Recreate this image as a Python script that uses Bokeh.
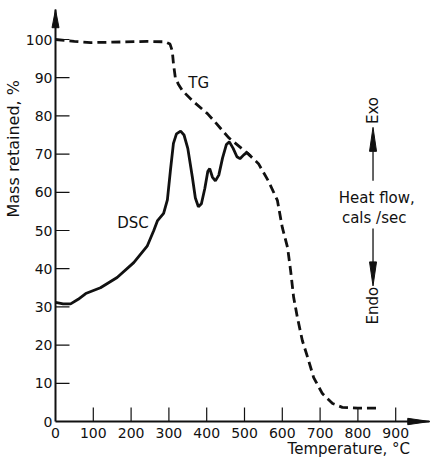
import math
from bokeh.plotting import figure
from bokeh.models import Label, FixedTicker, Range1d
from bokeh.embed import file_html
from bokeh.resources import INLINE

# ---------------- data ----------------
tg_temp = [0, 50, 93, 150, 243, 290, 303, 309, 312, 317, 325, 336, 362, 402, 423, 458,
           508, 537, 563, 587, 600, 614, 622, 630, 640, 653, 667, 683, 706, 733, 759,
           800, 852]
tg_mass = [100, 99.5, 99.2, 99.3, 99.5, 99.4, 98.8, 97.0, 93.7, 90.0, 88.3, 86.6, 84.0,
           80.6, 78.3, 74.3, 70.2, 67.5, 63.0, 57.9, 50.8, 45.5, 39.5, 32.5, 27.2, 21.2,
           16.8, 11.5, 7.3, 4.7, 3.7, 3.5, 3.5]

dsc_temp = [0, 20, 40, 60, 80, 119, 163, 207, 243, 260, 270, 286, 296, 304, 312, 320,
            331, 340, 350, 362, 370, 378, 386, 395, 403, 408, 415, 423, 432, 442, 452,
            460, 470, 480, 488, 498, 506, 516]
dsc_val = [31.2, 30.8, 30.8, 32.0, 33.5, 35.0, 37.7, 41.6, 46.0, 50.0, 52.6, 54.5, 58.0,
           65.7, 72.8, 75.3, 76.0, 75.0, 71.5, 64.0, 58.5, 56.2, 57.0, 61.0, 65.5, 66.2,
           64.0, 63.0, 64.5, 69.0, 72.5, 73.2, 71.5, 69.3, 68.8, 69.8, 70.4, 69.5]

x_ticks = [0, 100, 200, 300, 400, 500, 600, 700, 800, 900]
y_ticks = [0, 10, 20, 30, 40, 50, 60, 70, 80, 90, 100]

# ---------------- layout ----------------
W, H = 430, 461
ORIG_X, ORIG_Y = 55, 421          # pixel position of the origin
ppx = 0.378                        # px per degree
ppy = 3.82                         # px per %
X0, X1 = -ORIG_X / ppx, (W - ORIG_X) / ppx
Y0, Y1 = -(H - ORIG_Y) / ppy, ORIG_Y / ppy
FONT = "DejaVu Sans"
INK = "#111111"
TICK_PX = 14

p = figure(width=W, height=H, x_range=Range1d(X0, X1), y_range=Range1d(Y0, Y1),
           output_backend="svg", toolbar_location=None,
           min_border_left=0, min_border_right=0, min_border_top=0, min_border_bottom=0)
p.outline_line_color = None
p.grid.visible = False
p.background_fill_color = "white"
p.border_fill_color = "white"

x_tip = 990
y_tip = 107.8
p.xaxis.fixed_location = 0
p.yaxis.fixed_location = 0
p.xaxis.bounds = (0, x_tip)
p.yaxis.bounds = (0, y_tip)
p.xaxis.ticker = FixedTicker(ticks=x_ticks)
p.yaxis.ticker = FixedTicker(ticks=y_ticks)
for ax in (p.xaxis, p.yaxis):
    ax.axis_line_width = 2
    ax.axis_line_color = INK
    ax.major_tick_in = 0
    ax.major_tick_out = 0
    ax.major_tick_line_color = None
    ax.minor_tick_line_color = None
    ax.major_label_text_font = FONT
    ax.major_label_text_font_size = "14px"
    ax.major_label_text_color = INK
p.yaxis.major_label_standoff = 3
p.xaxis.major_label_standoff = 6

# inward tick marks placed at the tick values
yt = y_ticks[1:]
xt = x_ticks[1:]
p.segment(x0=[0] * len(yt), y0=yt, x1=[TICK_PX / ppx] * len(yt), y1=yt,
          line_color=INK, line_width=1.2)
p.segment(x0=xt, y0=[0] * len(xt), x1=xt, y1=[TICK_PX / ppy] * len(xt),
          line_color=INK, line_width=1.2)

# curves
p.line(tg_temp, tg_mass, line_color=INK, line_width=2.8, line_dash="9 5")
p.line(dsc_temp, dsc_val, line_color=INK, line_width=2.8)

# axis arrow heads
hy_len, hy_w = 18 / ppy, 3.5 / ppx
hx_len, hx_w = 22 / ppx, 3.2 / ppy
p.patch([-hy_w, 0, hy_w], [y_tip - hy_len, y_tip, y_tip - hy_len], color=INK)
p.patch([x_tip - hx_len, x_tip, x_tip - hx_len], [-hx_w, 0, hx_w], color=INK)

# Exo / Endo arrows
ax_x = 840
up_base, up_tip = 63.0, 77.0
dn_base, dn_tip = 50.5, 35.5
ah_len, ah_w = 24 / ppy, 3.5 / ppx
p.line([ax_x, ax_x], [up_base, up_tip - ah_len], line_color=INK, line_width=1.3)
p.patch([ax_x - ah_w, ax_x, ax_x + ah_w], [up_tip - ah_len, up_tip, up_tip - ah_len], color=INK)
p.line([ax_x, ax_x], [dn_base, dn_tip + ah_len], line_color=INK, line_width=1.3)
p.patch([ax_x - ah_w, ax_x, ax_x + ah_w], [dn_tip + ah_len, dn_tip, dn_tip + ah_len], color=INK)

def lab(x, y, text, size="15px", angle=0.0, align="center"):
    p.add_layout(Label(x=x, y=y, text=text, angle=angle, text_align=align,
                       text_baseline="middle", text_font=FONT,
                       text_font_size=size, text_color=INK))

lab(-111, 71.4, "Mass retained, %", size="16px", angle=math.pi / 2)
lab(776, -7.1, "Temperature, °C", size="15px")
lab(379, 88.7, "TG", size="15px")
lab(205, 52.0, "DSC", size="15px")
lab(ax_x, 81.4, "Exo", size="15px", angle=math.pi / 2)
lab(850, 58.6, "Heat flow,", size="15px")
lab(843, 53.3, "cals /sec", size="15px")
lab(ax_x, 30.3, "Endo", size="15px", angle=math.pi / 2)

open("out.html", "w").write(file_html(p, INLINE))
